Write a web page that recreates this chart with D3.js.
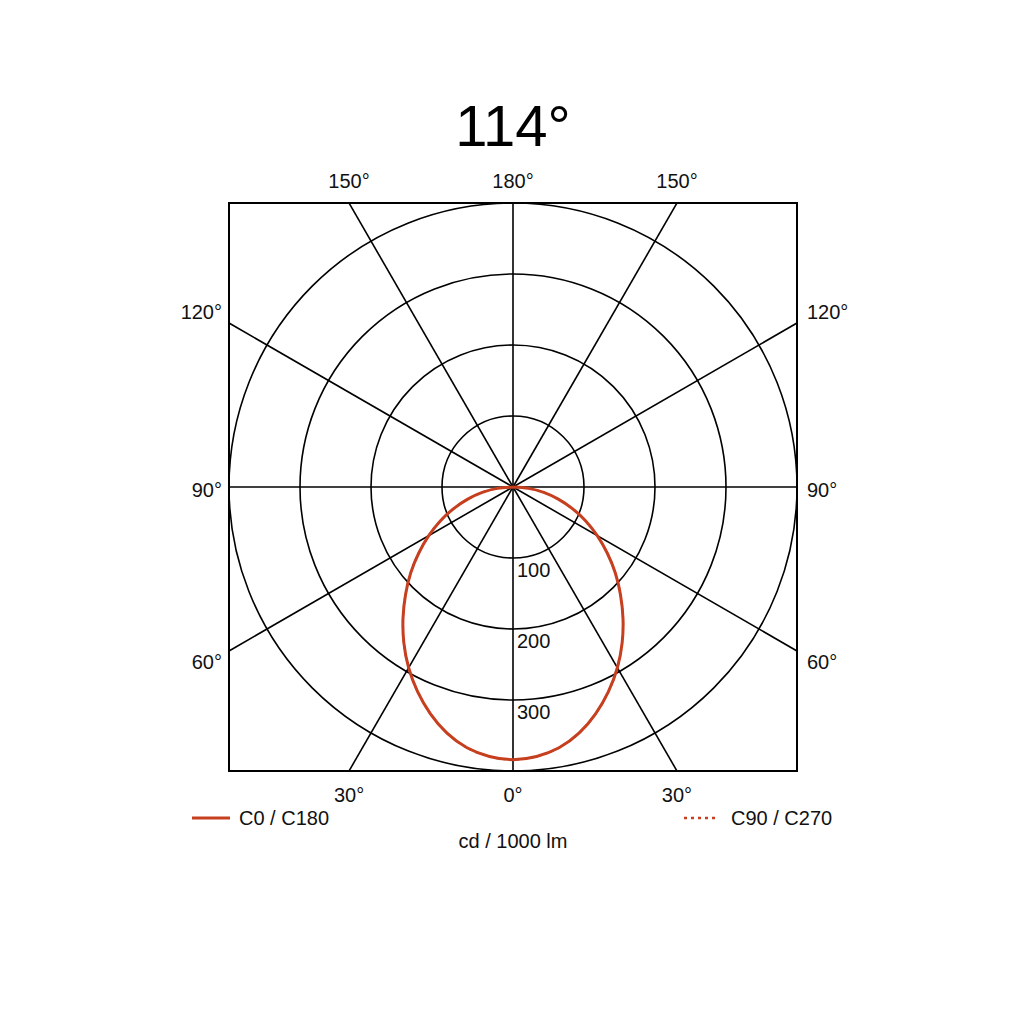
<!DOCTYPE html>
<html>
<head>
<meta charset="utf-8">
<script src="https://cdn.jsdelivr.net/npm/d3@7"></script>
<style>
  html, body { margin: 0; padding: 0; background: #fff; }
  svg { display: block; font-family: "Liberation Sans", Arial, sans-serif; }
</style>
</head>
<body>
<svg id="chart" width="1024" height="1024"></svg>
<script>
// polar light distribution, cd / 1000 lm

const title = '114°';
const gammaAngles = [0, 5, 10, 15, 20, 25, 30, 35, 40, 45, 50, 55, 60, 65, 70, 75, 80, 85, 90];
const c0c180 = [384, 381, 373, 359, 340, 318, 294, 268, 241, 214, 188, 162, 137, 113, 89, 66, 44, 22, 0];
const c90c270 = [384, 381, 373, 359, 340, 318, 294, 268, 241, 214, 188, 162, 137, 113, 89, 66, 44, 22, 0];

const ringValues = [100, 200, 300, 400];
const ringLabels = ['100', '200', '300'];
const spokeAngles = [0, 30, 60, 90, 120, 150, 180, 210, 240, 270, 300, 330];

const topLabels = [[-150, '150°'], [180, '180°'], [150, '150°']];
const sideLabels = [['120°', 120], ['90°', 90], ['60°', 60]];
const bottomLabels = [[-30, '30°'], [0, '0°'], [30, '30°']];

const legendNames = ['C0 / C180', 'C90 / C270'];
const unitLabel = 'cd / 1000 lm';

const RED = '#c63f1f';

const svg = d3.select('#chart');
const cx = 513, cy = 487, R = 284;

const r = d3.scaleLinear().domain([0, 400]).range([0, R]);
// 0° points down, 180° up
const px = (deg, v) => cx + v * Math.sin(deg * Math.PI / 180);
const py = (deg, v) => cy + v * Math.cos(deg * Math.PI / 180);

// 제목
svg.append('text')
  .attr('x', cx).attr('y', 146)
  .attr('text-anchor', 'middle')
  .attr('font-size', 58)
  .text(title);

// clip for spokes
svg.append('clipPath').attr('id', 'box')
  .append('rect')
  .attr('x', cx - R).attr('y', cy - R)
  .attr('width', 2 * R).attr('height', 2 * R);

const grid = svg.append('g').attr('stroke', '#000').attr('fill', 'none');

grid.append('g').attr('clip-path', 'url(#box)')
  .selectAll('line')
  .data(spokeAngles)
  .join('line')
  .attr('x1', cx).attr('y1', cy)
  .attr('x2', d => px(d, R * 2))
  .attr('y2', d => py(d, R * 2))
  .attr('stroke-width', 1.6);

grid.selectAll('circle')
  .data(ringValues)
  .join('circle')
  .attr('cx', cx).attr('cy', cy)
  .attr('r', d => r(d))
  .attr('stroke-width', 1.6);

grid.append('rect')
  .attr('x', cx - R).attr('y', cy - R)
  .attr('width', 2 * R).attr('height', 2 * R)
  .attr('stroke-width', 2);

// ring labels
svg.append('g')
  .selectAll('text')
  .data(ringLabels)
  .join('text')
  .attr('x', cx + 4)
  .attr('y', d => cy + r(+d) + 19)
  .attr('font-size', 20)
  .attr('fill', '#111')
  .text(d => d);

// angle labels
const labels = svg.append('g').attr('font-size', 20).attr('fill', '#111');

labels.selectAll('text.top')
  .data(topLabels)
  .join('text')
  .attr('class', 'top')
  .attr('text-anchor', 'middle')
  .attr('x', d => d[0] === 180 ? cx : cx + Math.sign(d[0]) * -R * Math.tan((180 - Math.abs(d[0])) * Math.PI / 180))
  .attr('y', 188)
  .text(d => d[1]);

labels.selectAll('text.bottom')
  .data(bottomLabels)
  .join('text')
  .attr('class', 'bottom')
  .attr('text-anchor', 'middle')
  .attr('x', d => cx + R * Math.tan(d[0] * Math.PI / 180))
  .attr('y', 802)
  .text(d => d[1]);

const sideY = d => d[1] === 90 ? cy + 10 : (d[1] > 90 ? cy - R * Math.tan((d[1] - 90) * Math.PI / 180) - 4 : cy + R * Math.tan((90 - d[1]) * Math.PI / 180) + 18);

labels.selectAll('text.left')
  .data(sideLabels)
  .join('text')
  .attr('class', 'left')
  .attr('text-anchor', 'end')
  .attr('x', cx - R - 7)
  .attr('y', sideY)
  .text(d => d[0]);

labels.selectAll('text.right')
  .data(sideLabels)
  .join('text')
  .attr('class', 'right')
  .attr('x', cx + R + 10)
  .attr('y', sideY)
  .text(d => d[0]);

// curves
function curvePoints(values) {
  const right = gammaAngles.map((a, i) => ({ angle: a, value: values[i] }));
  const left = gammaAngles.slice(1).map((a, i) => ({ angle: -a, value: values[i + 1] })).reverse();
  return left.concat(right);
}

const radial = d3.lineRadial()
  .angle(d => Math.PI - d.angle * Math.PI / 180)
  .radius(d => r(d.value))
  .curve(d3.curveNatural);

const plot = svg.append('g').attr('transform', `translate(${cx},${cy})`);

// C90/C270 lies under C0/C180 (same values)
plot.append('path')
  .datum(curvePoints(c90c270))
  .attr('d', radial)
  .attr('fill', 'none')
  .attr('stroke', RED)
  .attr('stroke-width', 2)
  .attr('stroke-dasharray', '3,4');

plot.append('path')
  .datum(curvePoints(c0c180))
  .attr('d', radial)
  .attr('fill', 'none')
  .attr('stroke', RED)
  .attr('stroke-width', 3);

// legend
const legend = svg.append('g').attr('font-size', 20).attr('fill', '#111');
legend.append('line')
  .attr('x1', 192).attr('x2', 230).attr('y1', 818).attr('y2', 818)
  .attr('stroke', RED).attr('stroke-width', 3);
legend.append('text').attr('x', 239).attr('y', 825).text(legendNames[0]);

legend.append('line')
  .attr('x1', 684).attr('x2', 719).attr('y1', 818).attr('y2', 818)
  .attr('stroke', RED).attr('stroke-width', 2.5)
  .attr('stroke-dasharray', '3,4');
legend.append('text').attr('x', 731).attr('y', 825).text(legendNames[1]);

legend.append('text')
  .attr('x', cx).attr('y', 848)
  .attr('text-anchor', 'middle')
  .text(unitLabel);
</script>
</body>
</html>
